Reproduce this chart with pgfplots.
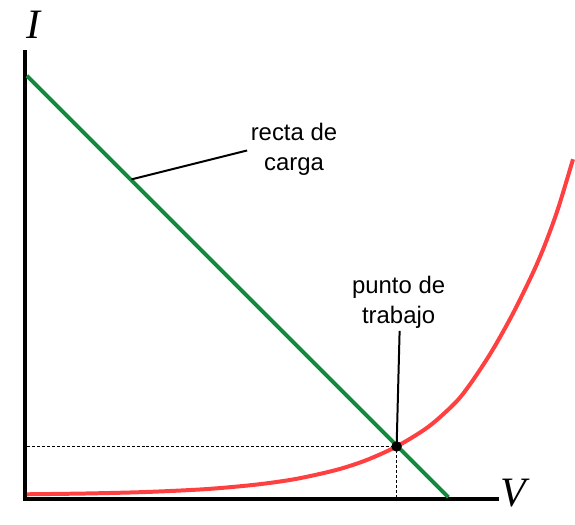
\documentclass[border=0pt]{standalone}
\usepackage{pgfplots}
\pgfplotsset{compat=1.18}
\usepackage{fontspec}
\setmainfont{Liberation Sans}
\newfontfamily\serifit{Liberation Serif}
\definecolor{lgreen}{RGB}{18,138,62}
\definecolor{lred}{RGB}{255,64,64}
\begin{document}
\begin{tikzpicture}
\begin{axis}[
  scale only axis, width=575pt, height=526pt,
  xmin=0, xmax=575, ymin=0, ymax=526,
  hide axis, clip=false,
]
\path (axis cs:0,0) rectangle (axis cs:575,526);
% axes
\addplot[black, line width=4pt, line cap=rect] coordinates {(25,474) (25,25) (499,25)};
% dashed guides
\addplot[black, line width=1pt, dash pattern=on 3pt off 2pt] coordinates {(27,78) (398,78) (398,27)};
% load line
\addplot[lgreen, line width=4pt] coordinates {(27,450) (450,27)};
% diode curve
\addplot[lred, line width=4pt, smooth] coordinates {
(27,30) (87,30.8) (147,32.3) (207,35.2) (257,39.7) (297,45.4) (337,54.3)
(367,64) (398,78) (430,97.8) (457,122) (472,140.8) (490,167.8) (503,189.9)
(517,215.8) (535,252.7) (547,280.9) (560,316.7) (575,366.2)};
% annotation leaders
\addplot[black, line width=2pt] coordinates {(248,375) (132,346)};
\addplot[black, line width=2pt] coordinates {(401,194) (398,78)};
% operating point
\addplot[only marks, mark=*, mark size=5pt, black] coordinates {(398,78)};
% labels
\node[font=\fontsize{24}{30}\selectfont, align=center] at (axis cs:295,376) {recta de\\carga};
\node[font=\fontsize{24}{30}\selectfont, align=center] at (axis cs:400,223) {punto de\\trabajo};
\node[font=\fontsize{42}{46}\selectfont\serifit\itshape] at (axis cs:34,501) {I};
\node[font=\fontsize{42}{46}\selectfont\serifit\itshape] at (axis cs:515,31) {V};
\end{axis}
\end{tikzpicture}
\end{document}
